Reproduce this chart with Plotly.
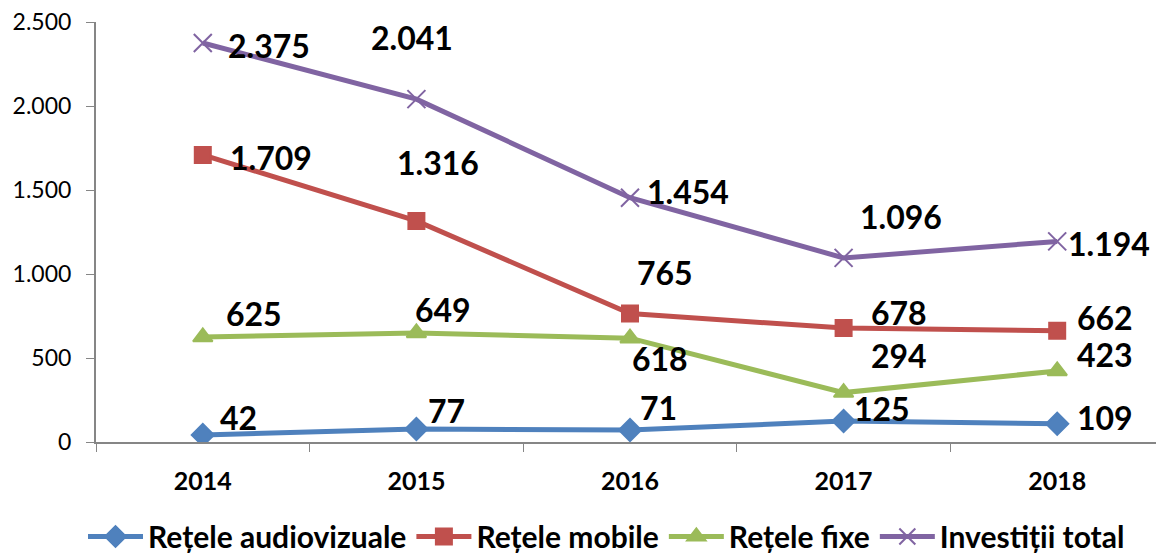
import plotly.graph_objects as go

years = ["2014", "2015", "2016", "2017", "2018"]
audiovizuale = [42, 77, 71, 125, 109]
mobile = [1709, 1316, 765, 678, 662]
fixe = [625, 649, 618, 294, 423]
total = [2375, 2041, 1454, 1096, 1194]

names = ["Rețele audiovizuale", "Rețele mobile", "Rețele fixe", "Investiții total"]
series = [audiovizuale, mobile, fixe, total]
colors = ["#4F81BD", "#C0504D", "#9BBB59", "#8064A2"]
symbols = ["diamond", "square", "triangle-up", "x-thin-open"]
msizes = [17, 16, 17, 18]

# label offsets (px) per series/point
label_dx = [
    [36, 30, 28, 38, 48],
    [68, 22, 35, 55, 48],
    [51, 27, 30, 55, 48],
    [66, -4, 58, 57, 52],
]
label_dy = [
    [17, 19, 23, 13, 6],
    [-3, 58, 41, 16, 13],
    [24, 23, -20, 37, 16],
    [-2, 62, 6, 41, -2],
]

def fmt(v):
    return f"{v:,}".replace(",", ".")

fig = go.Figure()
for name, vals, col, sym, ms in zip(names, series, colors, symbols, msizes):
    fig.add_trace(go.Scatter(
        x=years, y=vals, name=name, mode="lines+markers",
        line=dict(color=col, width=5),
        marker=dict(symbol=sym, size=ms, color=col,
                    line=dict(color=col, width=2)),
    ))

annotations = []
for vals, dxs, dys in zip(series, label_dx, label_dy):
    for i, (v, dx, dy) in enumerate(zip(vals, dxs, dys)):
        annotations.append(dict(
            x=i, y=v, xref="x", yref="y", text=fmt(v), showarrow=False,
            xshift=dx, yshift=dy,
            font=dict(family="Lato", size=32, color="#000000", weight="bold"),
        ))

fig.update_layout(
    width=1156, height=545,
    margin=dict(l=88, r=0, t=14, b=111, autoexpand=False),
    paper_bgcolor="white", plot_bgcolor="white",
    separators=",.",
    showlegend=True,
    legend=dict(orientation="h", x=0.478, xanchor="center", y=-0.163, yanchor="top",
                font=dict(family="Lato", size=30, color="#000000", weight="bold"),
                itemwidth=55, tracegroupgap=0),
    annotations=annotations,
    xaxis=dict(
        type="category", showline=True, linecolor="#868686", linewidth=2,
        ticks="outside", tickson="boundaries", ticklen=8, tickcolor="#868686",
        tickfont=dict(family="Lato", size=25, color="#000000", weight="bold"),
        ticklabelstandoff=16,
        showgrid=False, zeroline=False, range=[-0.5, 4.5], automargin=False,
    ),
    yaxis=dict(
        range=[0, 2500], tickvals=[0, 500, 1000, 1500, 2000, 2500],
        tickformat=",d", showline=True, linecolor="#868686", linewidth=2,
        ticks="outside", ticklen=8, tickcolor="#868686",
        tickfont=dict(family="Lato", size=23, color="#000000"),
        ticklabeloverflow="allow",
        showgrid=False, zeroline=False, ticklabelstandoff=10, automargin=False,
    ),
)

fig.write_html("out.html")
